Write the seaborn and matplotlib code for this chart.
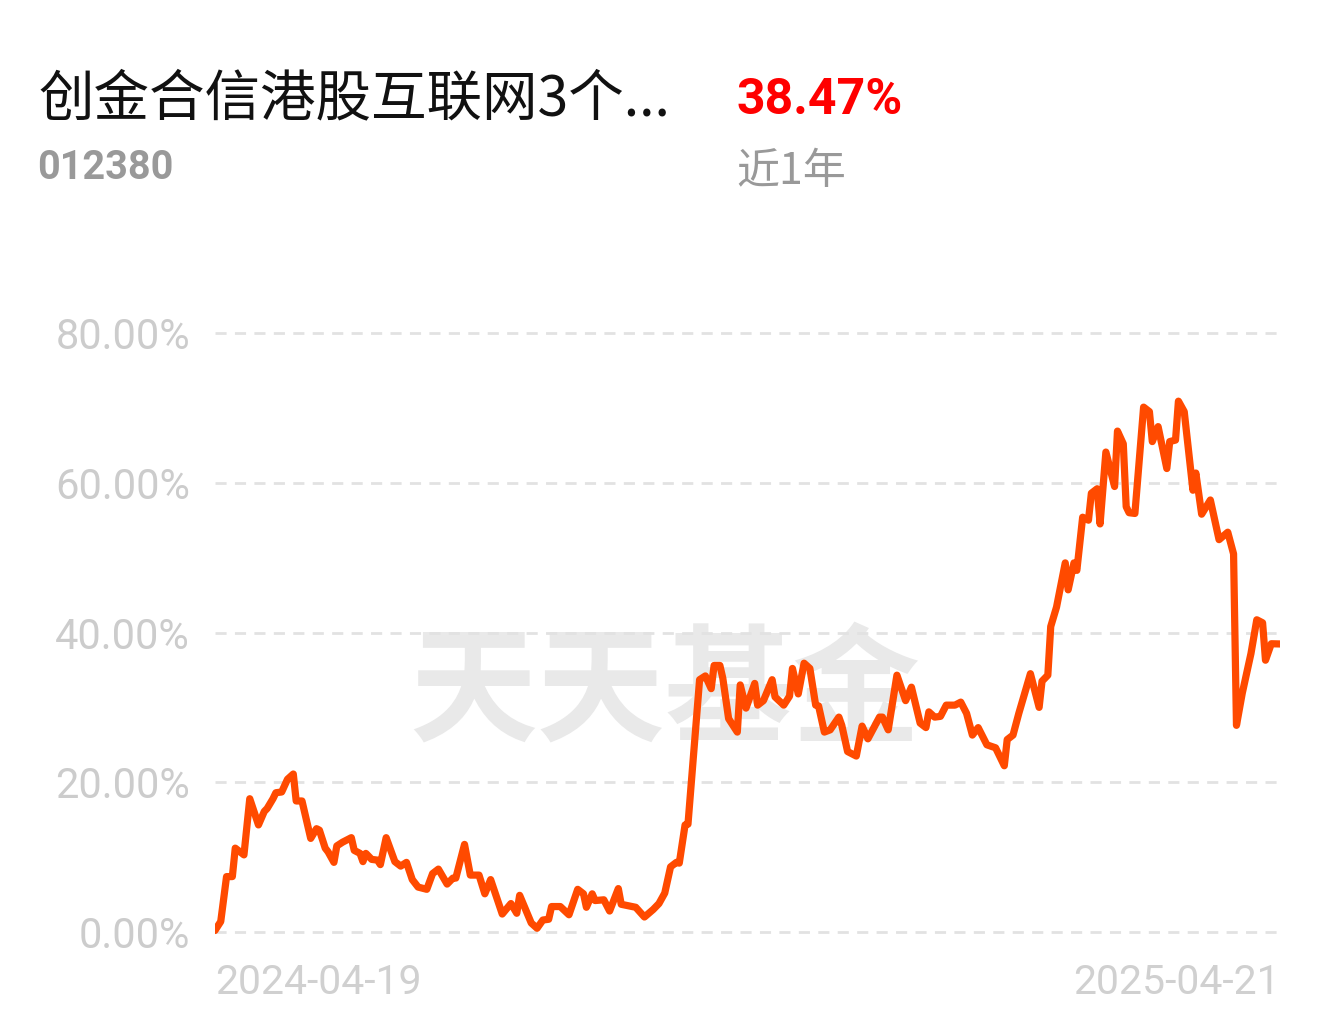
import matplotlib
matplotlib.use("Agg")
import matplotlib.pyplot as plt
import seaborn as sns
import pandas as pd

# fund info
fund_name = "创金合信港股互联网3个..."
fund_code = "012380"
period_return = "38.47%"
period_label = "近1年"
watermark = "天天基金"

start_date = "2024-04-19"
end_date = "2025-04-21"

# calendar-day offsets from start date and cumulative return (%)
day_offset = [
    0, 2, 4, 6, 7, 10, 12, 15, 17, 18, 20, 21, 23, 25, 27, 28, 30, 33, 35, 36,
    38, 39, 41, 42, 44, 47, 48, 50, 51, 52, 54, 56, 57, 59, 62, 64, 66, 68, 70, 73,
    75, 77, 80, 82, 83, 86, 88, 91, 93, 95, 99, 102, 104, 105, 109, 111, 113, 115, 116, 119,
    122, 125, 127, 128, 130, 131, 134, 136, 139, 140, 145, 148, 151, 153, 155, 157, 159, 160, 162, 163,
    167, 169, 171, 172, 174, 175, 177, 178, 180, 181, 183, 186, 187, 189, 192, 193, 196, 198, 199, 201,
    203, 205, 207, 208, 210, 212, 215, 216, 218, 221, 223, 225, 229, 230, 232, 235, 238, 240, 243, 245,
    246, 248, 250, 252, 255, 257, 259, 261, 263, 266, 269, 272, 273, 275, 277, 281, 284, 285, 287, 288,
    290, 293, 294, 296, 297, 299, 301, 302, 304, 305, 307, 310, 311, 313, 314, 315, 317, 320, 322, 323,
    325, 328, 329, 331, 332, 334, 337, 338, 340, 343, 346, 349, 351, 352, 354, 357, 359, 361, 362, 364,
    367,
]
return_pct = [
    0.2, 1.4, 7.4, 7.4, 11.2, 10.3, 17.8, 14.3, 16.1, 16.5, 17.8, 18.6, 18.7, 20.4, 21.1, 17.5, 17.5, 12.5, 13.8, 13.6,
    11.2, 10.7, 9.3, 11.5, 12.0, 12.6, 10.9, 10.5, 9.4, 10.5, 9.7, 9.6, 9.0, 12.6, 9.4, 8.8, 9.3, 7.0, 6.0, 5.7,
    7.8, 8.4, 6.4, 7.2, 7.2, 11.7, 7.6, 7.6, 5.1, 7.0, 2.4, 3.8, 2.5, 4.9, 1.2, 0.5, 1.6, 1.7, 3.4, 3.4,
    2.3, 5.7, 5.1, 3.3, 5.1, 4.2, 4.3, 2.8, 5.8, 3.7, 3.3, 2.0, 3.0, 3.8, 5.2, 8.7, 9.3, 9.2, 14.3, 14.4,
    33.7, 34.2, 32.5, 35.6, 35.6, 33.9, 28.5, 27.9, 26.7, 33.0, 29.9, 33.2, 30.3, 30.9, 33.7, 31.4, 30.3, 31.5, 35.2, 31.8,
    35.9, 35.2, 30.3, 30.2, 26.7, 27.0, 28.7, 27.6, 24.1, 23.5, 27.5, 25.8, 28.7, 28.7, 27.0, 34.3, 30.9, 32.7, 27.9, 27.3,
    29.4, 28.7, 28.8, 30.3, 30.3, 30.7, 29.2, 26.3, 27.3, 25.0, 24.6, 22.2, 25.7, 26.3, 29.2, 34.5, 30.0, 33.5, 34.3, 40.8,
    43.4, 49.3, 45.7, 49.3, 48.3, 55.4, 55.0, 58.6, 59.2, 54.5, 64.1, 59.5, 66.9, 65.2, 56.8, 56.0, 55.9, 70.1, 69.5, 65.5,
    67.5, 61.9, 65.5, 65.7, 70.9, 69.5, 59.0, 61.3, 55.8, 57.7, 52.4, 53.4, 50.5, 27.6, 31.9, 37.2, 41.7, 41.3, 36.3, 38.5,
    38.47,
]
y_ticks = [0, 20, 40, 60, 80]

df = pd.DataFrame({
    "date": pd.to_datetime(start_date) + pd.to_timedelta(day_offset, unit="D"),
    "ret": return_pct,
})

sns.set_theme(style="white")
plt.rcParams["font.family"] = ["Roboto", "Noto Sans CJK SC", "DejaVu Sans"]
cjk = ["Noto Sans CJK SC", "DejaVu Sans"]

fig = plt.figure(figsize=(13.35, 10.21), dpi=100)
ax = fig.add_axes([0.161, 0.0725, 0.7978, 0.616])

# watermark behind everything
ax.text(0.4225, 0.402, watermark, transform=ax.transAxes, ha="center", va="center",
        fontsize=92, fontweight="bold", color="#e9e9e9", family=cjk, zorder=0)

for t in y_ticks:
    ax.axhline(t, color="#e2e2e2", lw=2, ls=(0, (4, 3)), zorder=1)

sns.lineplot(data=df, x="date", y="ret", ax=ax, color="#ff4a00", lw=5.2, zorder=3)

ax.set_xlim(df["date"].iloc[0], df["date"].iloc[-1])
ax.set_ylim(-2, 82)
ax.set_xticks([])
ax.set_yticks(y_ticks)
ax.set_yticklabels([f"{t:.2f}%" for t in y_ticks])
ax.tick_params(axis="y", length=0, pad=18, labelsize=30, labelcolor="#cccccc")
ax.set_xlabel("")
ax.set_ylabel("")
for s in ax.spines.values():
    s.set_visible(False)

# date labels under the axis
ax.text(0.0, -0.026, start_date, transform=ax.transAxes, ha="left", va="top",
        fontsize=29.5, color="#d0d0d0")
ax.text(1.0, -0.026, end_date, transform=ax.transAxes, ha="right", va="top",
        fontsize=29.5, color="#d0d0d0")

# header
fig.text(38 / 1335, 1 - 100 / 1021, fund_name, ha="left", va="center",
         fontsize=40, color="#111111", family=cjk)
fig.text(736 / 1335, 1 - 101 / 1021, period_return, ha="left", va="center",
         fontsize=36, fontweight="bold", color="#ff0000")
fig.text(37 / 1335, 1 - 168 / 1021, fund_code, ha="left", va="center",
         fontsize=28.5, fontweight="bold", color="#999999")
fig.text(736 / 1335, 1 - 172 / 1021, period_label, ha="left", va="center",
         fontsize=31, color="#999999", family=cjk)

fig.savefig("out.png", dpi=100, facecolor="white")
